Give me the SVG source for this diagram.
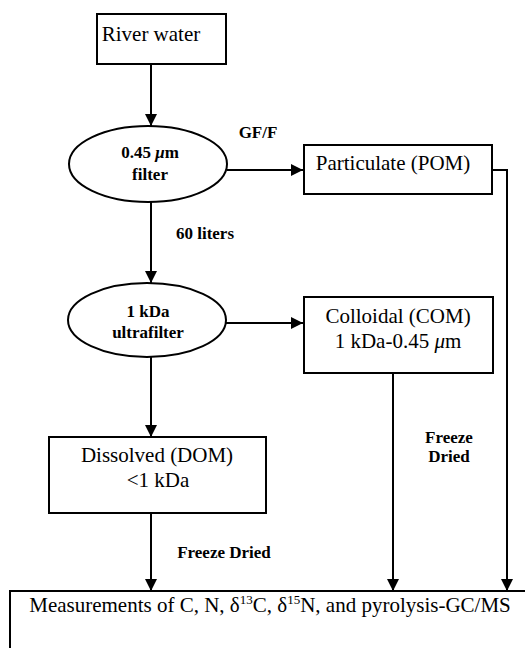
<svg xmlns="http://www.w3.org/2000/svg" width="525" height="648" viewBox="0 0 525 648">
<style>
.box{fill:#fff;stroke:#000;stroke-width:2}
text{font-family:'Liberation Serif','Times New Roman','DejaVu Serif',serif;fill:#000;text-anchor:middle}
.t{font-size:21px}
.b{font-size:17px;font-weight:bold}
.c{fill:none;stroke:#000;stroke-width:2}
</style>
<defs>
<marker id="ah" markerWidth="12" markerHeight="12" viewBox="0 0 12 12" refX="12" refY="6" orient="auto" markerUnits="userSpaceOnUse">
<path d="M0,0 L12,6 L0,12 Z" fill="#000"/>
</marker>
</defs>
<rect width="525" height="648" fill="#fff"/>
<g id="connectors">
<line class="c" x1="151" y1="64" x2="151" y2="126" marker-end="url(#ah)"/>
<line class="c" x1="227" y1="170" x2="303" y2="170" marker-end="url(#ah)"/>
<line class="c" x1="151" y1="202" x2="151" y2="283" marker-end="url(#ah)"/>
<line class="c" x1="226" y1="323" x2="303" y2="323" marker-end="url(#ah)"/>
<line class="c" x1="151" y1="357" x2="151" y2="437" marker-end="url(#ah)"/>
<polyline class="c" points="492,170 507,170 507,591" marker-end="url(#ah)"/>
<line class="c" x1="393" y1="373" x2="393" y2="591" marker-end="url(#ah)"/>
<line class="c" x1="151" y1="513" x2="151" y2="591" marker-end="url(#ah)"/>
<text class="b" x="258" y="138">GF/F</text>
<text class="b" x="205" y="239">60 liters</text>
<text class="b" x="449" y="443">Freeze</text>
<text class="b" x="449" y="462">Dried</text>
<text class="b" x="224" y="558">Freeze Dried</text>
</g>
<g id="river">
<rect class="box" x="97" y="14" width="129" height="50"/>
<text class="t" x="151" y="41">River water</text>
</g>
<g id="filter">
<ellipse class="box" cx="148" cy="164" rx="79" ry="38"/>
<text class="b" x="150" y="158">0.45 <tspan font-style="italic">μ</tspan>m</text>
<text class="b" x="150" y="180">filter</text>
</g>
<g id="pom">
<rect class="box" x="304" y="145" width="188" height="49"/>
<text class="t" x="393" y="170">Particulate (POM)</text>
</g>
<g id="ultrafilter">
<ellipse class="box" cx="147" cy="320" rx="79" ry="37"/>
<text class="b" x="148" y="317">1 kDa</text>
<text class="b" x="148" y="338">ultrafilter</text>
</g>
<g id="com">
<rect class="box" x="304" y="297" width="189" height="76"/>
<text class="t" x="398" y="323">Colloidal (COM)</text>
<text class="t" x="398" y="348">1 kDa-0.45 <tspan font-style="italic">μ</tspan>m</text>
</g>
<g id="dom">
<rect class="box" x="49" y="437" width="217" height="76"/>
<text class="t" x="157" y="462">Dissolved (DOM)</text>
<text class="t" x="158" y="487">&lt;1 kDa</text>
</g>
<g id="measurements">
<rect class="box" x="10" y="591" width="530" height="80"/>
<text class="t" x="270" y="612">Measurements of C, N, δ<tspan font-size="13" dy="-8">13</tspan><tspan dy="8">C, δ</tspan><tspan font-size="13" dy="-8">15</tspan><tspan dy="8">N, and pyrolysis-GC/MS</tspan></text>
</g>
</svg>
